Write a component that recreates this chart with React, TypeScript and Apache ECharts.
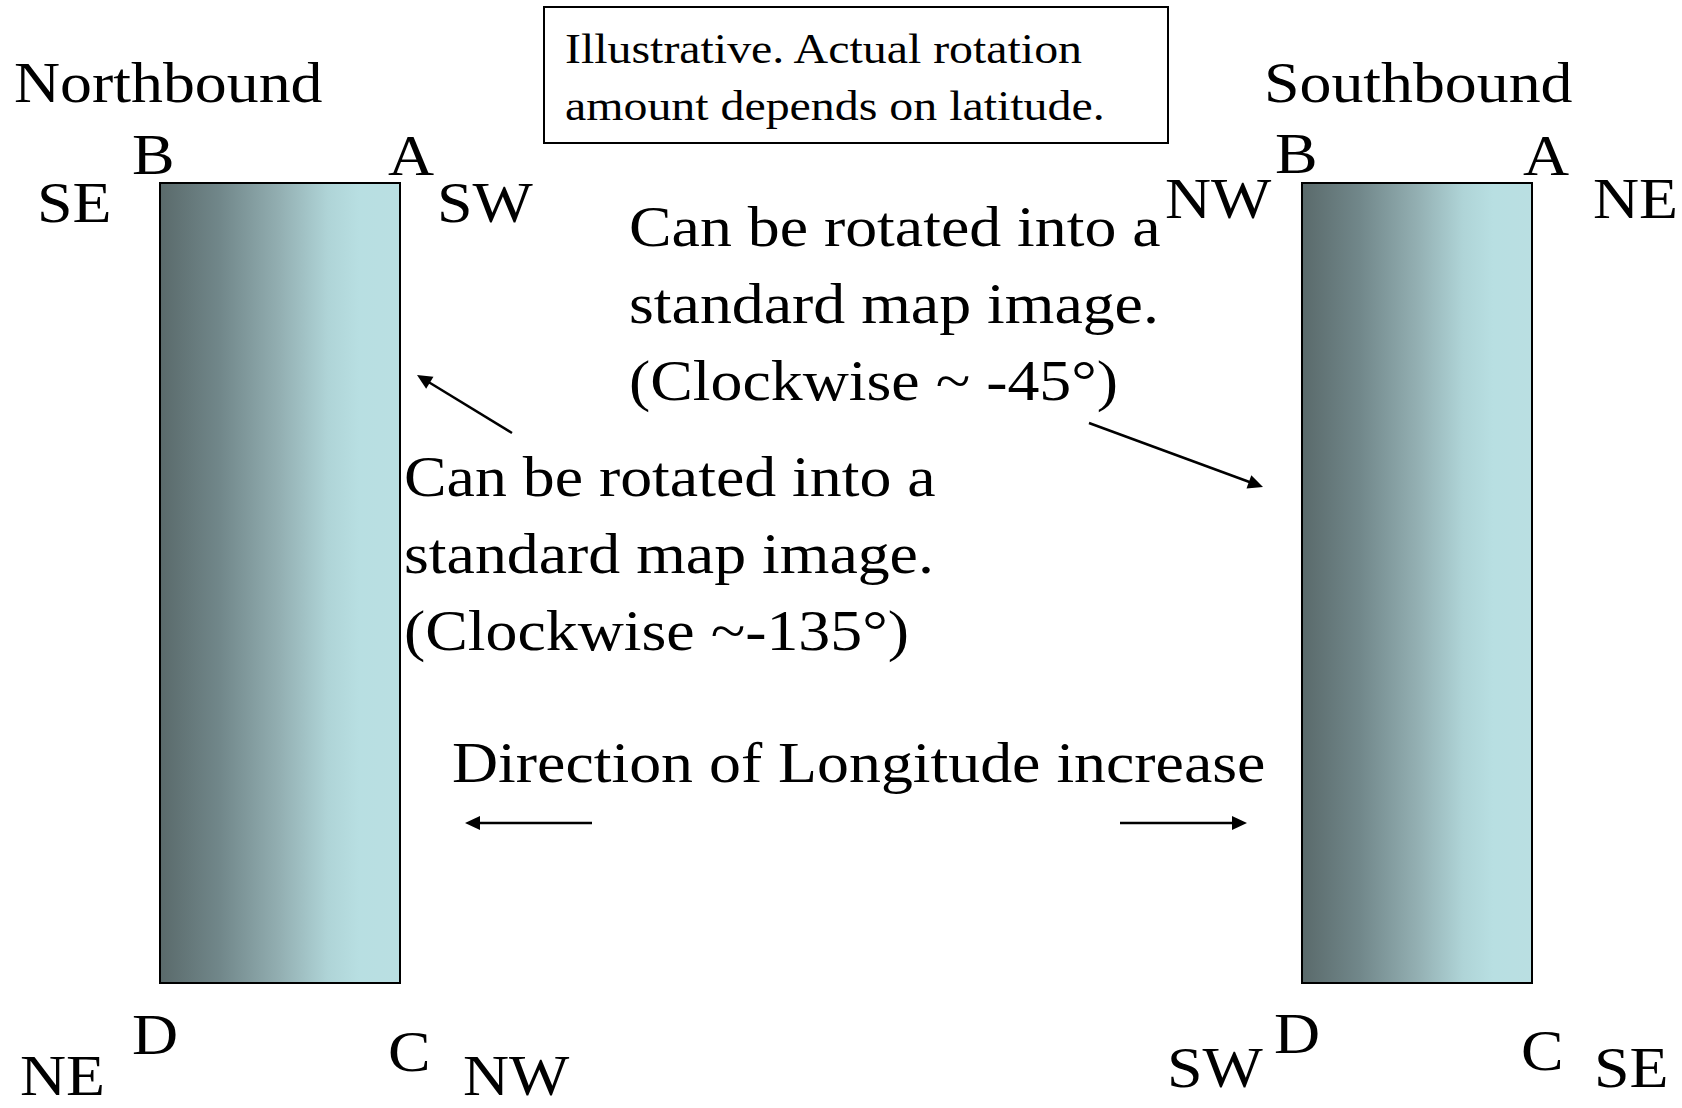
import { useEffect, useRef } from "react";
import * as echarts from "echarts";

// ---- texts of the diagram ----
const titles = ["Northbound", "Southbound"];
const topCorners = ["B", "A"];
const bottomCorners = ["D", "C"];
const northTopCompass = ["SE", "SW"];
const northBottomCompass = ["NE", "NW"];
const southTopCompass = ["NW", "NE"];
const southBottomCompass = ["SW", "SE"];
const noteLines = ["Illustrative. Actual rotation", "amount depends on latitude."];
const southRotationLines = ["Can be rotated into a", "standard map image.", "(Clockwise ~ -45°)"];
const northRotationLines = ["Can be rotated into a", "standard map image.", "(Clockwise ~-135°)"];
const longitudeLabel = "Direction of Longitude increase";

const FONT = "'Liberation Serif', 'Times New Roman', Times, serif";
const SX = 1.14;

function txt(text: string, x: number, baseline: number, size = 56) {
  return {
    type: "text",
    x,
    y: baseline - 0.3375 * size,
    scaleX: SX,
    silent: true,
    style: {
      text,
      font: `${size}px ${FONT}`,
      fill: "#000",
      align: "left",
      verticalAlign: "middle",
    },
  };
}

function arrow(x1: number, y1: number, x2: number, y2: number, len = 15, half = 7, lw = 2.5) {
  const dx = x2 - x1;
  const dy = y2 - y1;
  const d = Math.sqrt(dx * dx + dy * dy);
  const ux = dx / d;
  const uy = dy / d;
  const bx = x2 - ux * len;
  const by = y2 - uy * len;
  const px = -uy;
  const py = ux;
  return [
    {
      type: "line",
      silent: true,
      shape: { x1, y1, x2: bx + ux * 2, y2: by + uy * 2 },
      style: { stroke: "#000", lineWidth: lw },
    },
    {
      type: "polygon",
      silent: true,
      shape: {
        points: [
          [x2, y2],
          [bx + px * half, by + py * half],
          [bx - px * half, by - py * half],
        ],
      },
      style: { fill: "#000" },
    },
  ];
}

const gradient = {
  type: "linear",
  x: 0,
  y: 0,
  x2: 1,
  y2: 0,
  colorStops: [
    { offset: 0, color: "#5a6a6b" },
    { offset: 0.25, color: "#71878a" },
    { offset: 0.5, color: "#93afb2" },
    { offset: 0.7, color: "#afd4d7" },
    { offset: 0.83, color: "#b8dfe2" },
    { offset: 1, color: "#badfe2" },
  ],
};

export default function App() {
  const ref = useRef<HTMLDivElement>(null);
  useEffect(() => {
    document.body.style.margin = "0";
    const chart = echarts.init(ref.current!, null, { renderer: "svg" });

    const elements: any[] = [];

    // strips
    elements.push({
      type: "rect",
      silent: true,
      shape: { x: 160, y: 183, width: 240, height: 800 },
      style: { fill: gradient, stroke: "#000", lineWidth: 2 },
    });
    elements.push({
      type: "rect",
      silent: true,
      shape: { x: 1302, y: 183, width: 230, height: 800 },
      style: { fill: gradient, stroke: "#000", lineWidth: 2 },
    });

    // note box
    elements.push({
      type: "rect",
      silent: true,
      shape: { x: 544, y: 7, width: 624, height: 136 },
      style: { fill: "#fff", stroke: "#000", lineWidth: 2 },
    });
    elements.push(txt(noteLines[0], 565, 63, 42));
    elements.push(txt(noteLines[1], 565, 120, 42));

    // titles
    elements.push(txt(titles[0], 14, 102));
    elements.push(txt(titles[1], 1264, 102));

    // northbound corners
    elements.push(txt(topCorners[0], 132, 174));
    elements.push(txt(topCorners[1], 388, 175));
    elements.push(txt(northTopCompass[0], 37, 222));
    elements.push(txt(northTopCompass[1], 437, 222));
    elements.push(txt(bottomCorners[0], 132, 1054));
    elements.push(txt(bottomCorners[1], 388, 1071));
    elements.push(txt(northBottomCompass[0], 20, 1095));
    elements.push(txt(northBottomCompass[1], 463, 1095));

    // southbound corners
    elements.push(txt(topCorners[0], 1275, 173));
    elements.push(txt(topCorners[1], 1523, 175));
    elements.push(txt(southTopCompass[0], 1165, 218));
    elements.push(txt(southTopCompass[1], 1593, 218));
    elements.push(txt(bottomCorners[0], 1274, 1053));
    elements.push(txt(bottomCorners[1], 1521, 1070));
    elements.push(txt(southBottomCompass[0], 1167, 1087));
    elements.push(txt(southBottomCompass[1], 1594, 1087));

    // rotation notes
    southRotationLines.forEach((l, i) => elements.push(txt(l, 629, 246 + i * 76.7)));
    northRotationLines.forEach((l, i) => elements.push(txt(l, 404, 496 + i * 76.7)));

    // longitude
    elements.push(txt(longitudeLabel, 452, 782));

    // arrows
    elements.push(...arrow(512, 433, 417, 375));
    elements.push(...arrow(1089, 423, 1263, 487));
    elements.push(...arrow(592, 823, 465, 823));
    elements.push(...arrow(1120, 823, 1247, 823));

    chart.setOption({
      animation: false,
      backgroundColor: "#fff",
      graphic: { elements },
    });
    return () => chart.dispose();
  }, []);
  return <div ref={ref} style={{ width: 1682, height: 1108 }} />;
}
